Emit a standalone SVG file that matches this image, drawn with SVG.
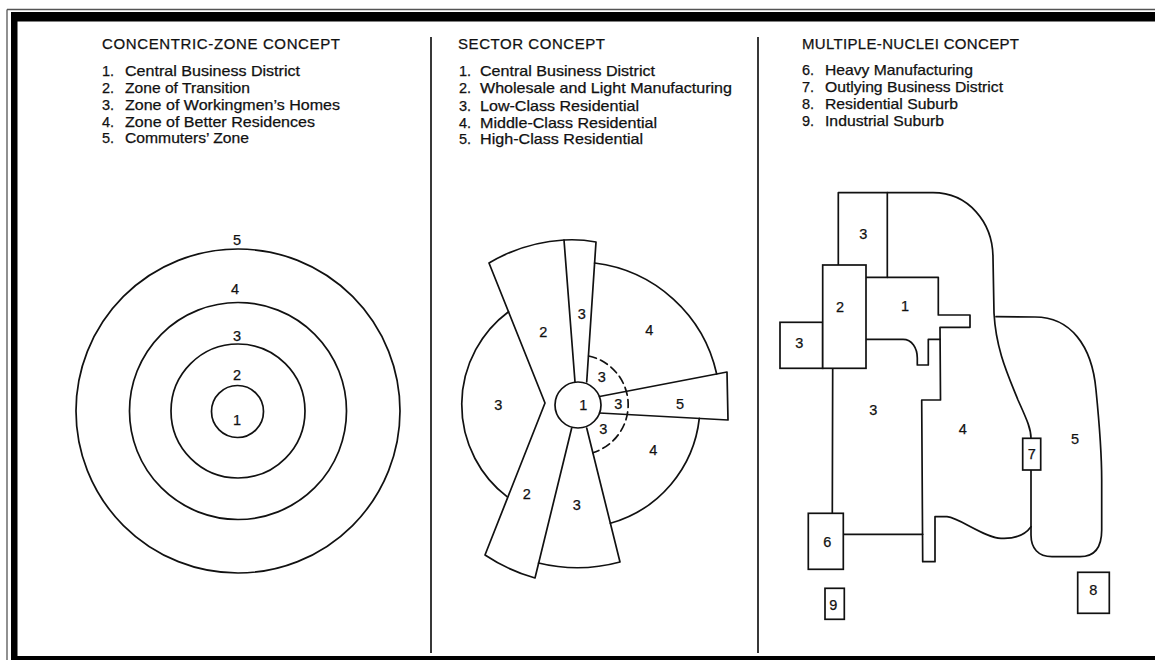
<svg xmlns="http://www.w3.org/2000/svg" width="1155" height="660" viewBox="0 0 1155 660">
<style>
.ln{fill:none;stroke:#111;stroke-width:1.7;stroke-linejoin:round;stroke-linecap:round}
.bx{fill:#fff;stroke:#111;stroke-width:1.7}
.t{font-family:"Liberation Sans",Arial,sans-serif;fill:#111;stroke:#111;stroke-width:0.25}
.ti{font-size:15px}
.li{font-size:14.5px}
.lb{font-size:14.5px;text-anchor:middle}
.dv{stroke:#222;stroke-width:1.8}
</style>
<rect width="1155" height="660" fill="#fff"/>
<g id="frame">
<line x1="7" y1="9.5" x2="1155" y2="9.5" stroke="#555" stroke-width="1.3"/>
<line x1="7" y1="9.5" x2="7" y2="660" stroke="#555" stroke-width="1.3"/>
<rect x="11" y="12" width="1144" height="9.5" fill="#000"/>
<rect x="11" y="12" width="6.5" height="648" fill="#000"/>
<rect x="11" y="656" width="1144" height="4" fill="#000"/>
<line class="dv" x1="431" y1="37" x2="431" y2="653"/>
<line class="dv" x1="758" y1="37" x2="758" y2="653"/>
</g>
<g id="legend-concentric" class="t">
<text class="ti" x="102" y="49" textLength="238">CONCENTRIC-ZONE CONCEPT</text>
<g class="li">
<text x="102" y="76">1.</text><text x="125" y="76" textLength="175" lengthAdjust="spacingAndGlyphs">Central Business District</text>
<text x="102" y="93">2.</text><text x="125" y="93" textLength="125" lengthAdjust="spacingAndGlyphs">Zone of Transition</text>
<text x="102" y="110">3.</text><text x="125" y="110" textLength="215" lengthAdjust="spacingAndGlyphs">Zone of Workingmen’s Homes</text>
<text x="102" y="126.5">4.</text><text x="125" y="126.5" textLength="190" lengthAdjust="spacingAndGlyphs">Zone of Better Residences</text>
<text x="102" y="143">5.</text><text x="125" y="143" textLength="124" lengthAdjust="spacingAndGlyphs">Commuters’ Zone</text>
</g>
</g>
<g id="legend-sector" class="t">
<text class="ti" x="458" y="49" textLength="147">SECTOR CONCEPT</text>
<g class="li">
<text x="459" y="76">1.</text><text x="480" y="76" textLength="175" lengthAdjust="spacingAndGlyphs">Central Business District</text>
<text x="459" y="93">2.</text><text x="480" y="93" textLength="252" lengthAdjust="spacingAndGlyphs">Wholesale and Light Manufacturing</text>
<text x="459" y="110.5">3.</text><text x="480" y="110.5" textLength="159" lengthAdjust="spacingAndGlyphs">Low-Class Residential</text>
<text x="459" y="127.5">4.</text><text x="480" y="127.5" textLength="177" lengthAdjust="spacingAndGlyphs">Middle-Class Residential</text>
<text x="459" y="144">5.</text><text x="480" y="144" textLength="163" lengthAdjust="spacingAndGlyphs">High-Class Residential</text>
</g>
</g>
<g id="legend-nuclei" class="t">
<text class="ti" x="802" y="48.5" textLength="217">MULTIPLE-NUCLEI CONCEPT</text>
<g class="li">
<text x="802" y="75">6.</text><text x="825" y="75" textLength="148" lengthAdjust="spacingAndGlyphs">Heavy Manufacturing</text>
<text x="802" y="92">7.</text><text x="825" y="92" textLength="178" lengthAdjust="spacingAndGlyphs">Outlying Business District</text>
<text x="802" y="109">8.</text><text x="825" y="109" textLength="133" lengthAdjust="spacingAndGlyphs">Residential Suburb</text>
<text x="802" y="125.5">9.</text><text x="825" y="125.5" textLength="119" lengthAdjust="spacingAndGlyphs">Industrial Suburb</text>
</g>
</g>
<g id="concentric">
<circle class="ln" cx="238" cy="411" r="162"/>
<circle class="ln" cx="238" cy="411" r="108.5"/>
<circle class="ln" cx="238" cy="411" r="67"/>
<circle class="ln" cx="237.5" cy="411.5" r="26"/>
<g class="t lb">
<text x="237" y="425">1</text>
<text x="237" y="380">2</text>
<text x="237" y="341">3</text>
<text x="235" y="294">4</text>
<text x="237" y="244.5">5</text>
</g>
</g>
<g id="sector">
<path class="ln" d="M508.5,311.7 A116,116 0 0 0 507,496.7"/>
<path class="ln" d="M594.6,263 A142.7,142.7 0 0 1 716.7,374"/>
<path class="ln" d="M699.3,418.4 A123,123 0 0 1 610.4,523.3"/>
<path class="ln" d="M575,382 L564,240 Q580,239 596,242 L586.7,382"/>
<path class="ln" d="M564,240 A166,166 0 0 0 489,263 L545,403 L485,555 A177,177 0 0 0 535,578 L571.7,428"/>
<path class="ln" d="M538.5,563 A163,163 0 0 0 620,562 L586.7,428"/>
<path class="ln" d="M599.5,396.5 L727,372 L728,420 L599.5,413"/>
<path class="ln" d="M588.7,356 A50,50 0 0 1 592.8,452.7" stroke-dasharray="8 4.5"/>
<circle class="ln" cx="578" cy="405" r="23"/>
<g class="t lb">
<text x="581.7" y="318.5">3</text>
<text x="543.3" y="337">2</text>
<text x="649.3" y="335">4</text>
<text x="498.3" y="410">3</text>
<text x="583.3" y="409.5">1</text>
<text x="601.7" y="381.5">3</text>
<text x="618.3" y="408.5">3</text>
<text x="680" y="408.5">5</text>
<text x="603.3" y="433.5">3</text>
<text x="653.3" y="455">4</text>
<text x="526.7" y="498.5">2</text>
<text x="576.7" y="510">3</text>
</g>
</g>
<g id="nuclei">
<path class="ln" d="M838.3,265 L838.3,192.7 L933,192.7 C968,192.7 993,222 993,258 L994,313 C996,350 1008,375 1018,400 C1026,418 1031,428 1031,438.3"/>
<line class="ln" x1="887.3" y1="192.7" x2="887.3" y2="277.3"/>
<path class="ln" d="M866,277.3 L938.3,277.3 L938.3,315 L970,315 L970,327.3 L940,327.3 L940.5,400 L921.7,400 L922.7,561.7 L935,561.7 L935,516.7 L947,516.7 C960,518 985,538 1001,538.3 C1015,539 1025,535 1031,526.7"/>
<path class="ln" d="M866,339.3 L903,339.3 C912,339.3 917.3,348 917.3,358 L917.3,365 L928.3,365 L928.3,339.3 L940,339.3"/>
<path class="ln" d="M996,316.7 L1035,317 C1070,317 1092,345 1096,390 C1099,420 1101.7,450 1101.7,480 L1101.7,530 C1101.7,548 1094,556.7 1080,556.7 L1052,556.7 C1038,556.7 1031,548 1031,535 L1031,470"/>
<line class="ln" x1="832.7" y1="368.3" x2="832.3" y2="513.3"/>
<line class="ln" x1="843.3" y1="534.3" x2="922.7" y2="534.3"/>
<g id="zone-3-left"><rect class="bx" x="780" y="322.3" width="42.7" height="46"/></g>
<g id="zone-2"><rect class="bx" x="822.7" y="265" width="43.3" height="103.3"/></g>
<g id="zone-7"><rect class="bx" x="1022.7" y="438.3" width="18" height="31.7"/></g>
<g id="zone-6"><rect class="bx" x="808.3" y="513.3" width="35" height="56"/></g>
<g id="zone-9"><rect class="bx" x="825" y="588.3" width="19.3" height="31"/></g>
<g id="zone-8"><rect class="bx" x="1077.7" y="572.3" width="31.6" height="41"/></g>
<g class="t lb">
<text x="863.3" y="238.5">3</text>
<text x="840" y="311.5">2</text>
<text x="905" y="311">1</text>
<text x="799.3" y="347.5">3</text>
<text x="873.3" y="414.5">3</text>
<text x="962.7" y="433.5">4</text>
<text x="1075" y="443.5">5</text>
<text x="1031.7" y="458.5">7</text>
<text x="827.3" y="546.5">6</text>
<text x="833.3" y="610">9</text>
<text x="1093.3" y="594.5">8</text>
</g>
</g>
</svg>
